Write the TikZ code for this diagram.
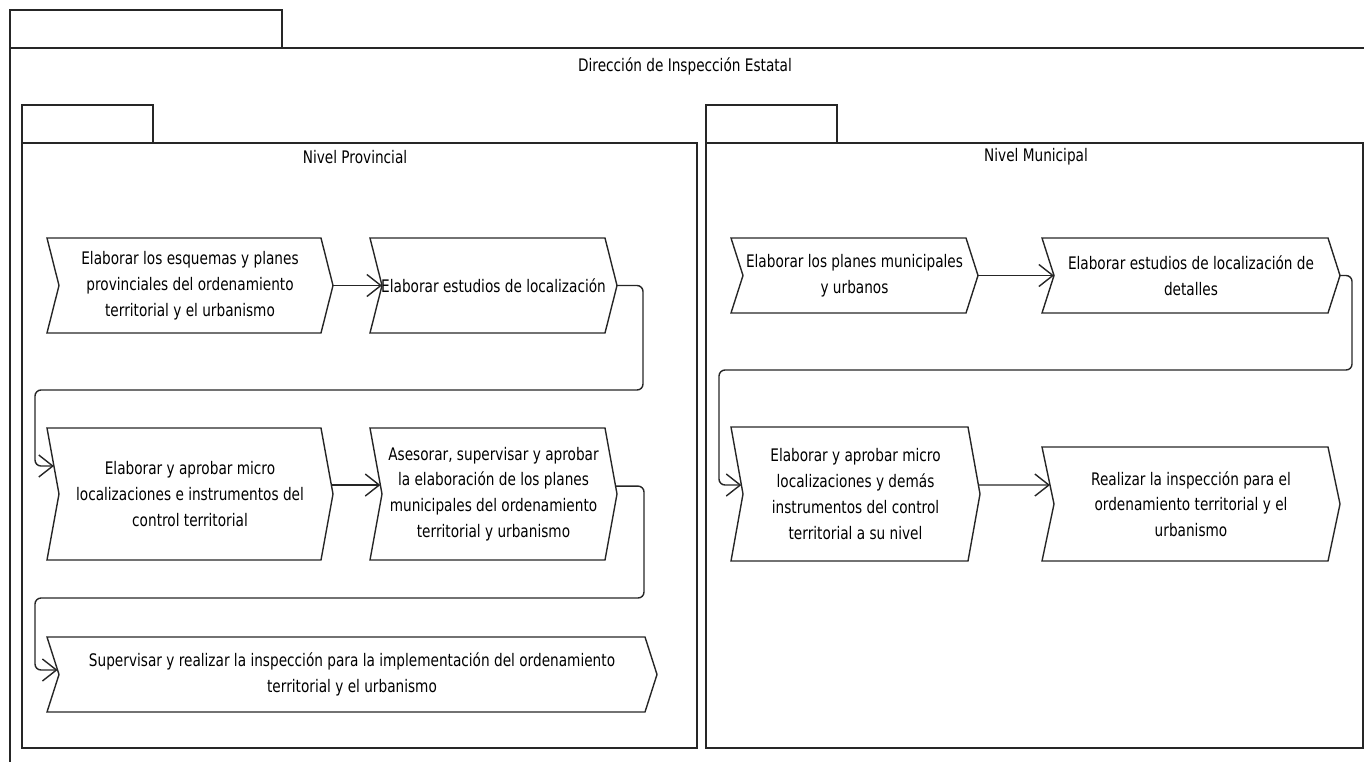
\documentclass[tikz,border=0pt]{standalone}
\usepackage{fontspec}
\setmainfont{DejaVu Sans}[FakeStretch=0.79]
\usetikzlibrary{arrows.meta,calc}
\newcommand\chevfont{\fontsize{17.3}{25.8}\selectfont}
\newcommand\chevout[1]{\draw[outl] (#1.north west) -- ([xshift=-12pt]#1.north east) -- (#1.east) -- ([xshift=-12pt]#1.south east) -- (#1.south west) -- ([xshift=12pt]#1.west) -- cycle;}
\tikzset{
  outl/.style={draw=black!85, line width=1.4pt, line join=miter},
  pkg/.style={draw=black!85, line width=1.4pt, inner sep=0pt, outer sep=0pt},
  chev/.style={draw=none, inner sep=0pt, outer sep=0pt, align=center, font=\chevfont},
  lbl/.style={inner sep=0pt, font=\chevfont},
  arr/.style={draw=black!85, line width=1.4pt, -{Straight Barb[length=14pt,width=22pt]}, rounded corners=6pt},
}
\begin{document}
\begin{tikzpicture}[x=1pt,y=-1pt]
\useasboundingbox (0,0) rectangle (1364,761);
\clip (0,0) rectangle (1364,761);
% outer package
\node[pkg, minimum width=272pt, minimum height=38pt] (outtab) at (146,29) {};
\node[pkg, minimum width=1370pt, minimum height=740pt] (outer) at (695,418) {};
\node[lbl] (dir) at (685,66) {Dirección de Inspección Estatal};
% provincial package
\node[pkg, minimum width=131pt, minimum height=38pt] (provtab) at (87.5,124) {};
\node[pkg, minimum width=675pt, minimum height=605pt] (prov) at (359.5,445.5) {};
\node[lbl] (provlbl) at (355,157) {Nivel Provincial};
% municipal package
\node[pkg, minimum width=131pt, minimum height=38pt] (munitab) at (771.5,124) {};
\node[pkg, minimum width=657pt, minimum height=605pt] (muni) at (1034.5,445.5) {};
\node[lbl] (munilbl) at (1036,157) {Nivel Municipal};
% provincial actions
\node[chev, minimum width=286pt, minimum height=95pt] (P1) at (190,285.5) {Elaborar los esquemas y planes\\provinciales del ordenamiento\\territorial y el urbanismo};
\chevout{P1}
\node[chev, minimum width=247pt, minimum height=95pt] (P2) at (493.5,285.5) {Elaborar estudios de localización};
\chevout{P2}
\node[chev, minimum width=286pt, minimum height=132pt] (P3) at (190,494) {Elaborar y aprobar micro\\localizaciones e instrumentos del\\control territorial};
\chevout{P3}
\node[chev, minimum width=247pt, minimum height=132pt] (P4) at (493.5,494) {Asesorar, supervisar y aprobar\\la elaboración de los planes\\municipales del ordenamiento\\territorial y urbanismo};
\chevout{P4}
\node[chev, minimum width=610pt, minimum height=75pt] (P5) at (352,674.5) {Supervisar y realizar la inspección para la implementación del ordenamiento\\territorial y el urbanismo};
\chevout{P5}
% municipal actions
\node[chev, minimum width=247pt, minimum height=75pt] (M1) at (854.5,275.5) {Elaborar los planes municipales\\y urbanos};
\chevout{M1}
\node[chev, minimum width=298pt, minimum height=75pt] (M2) at (1191,275.5) {Elaborar estudios de localización de\\detalles};
\chevout{M2}
\node[chev, minimum width=249pt, minimum height=134pt] (M3) at (855.5,494) {Elaborar y aprobar micro\\localizaciones y demás\\instrumentos del control\\territorial a su nivel};
\chevout{M3}
\node[chev, minimum width=298pt, minimum height=114pt] (M4) at (1191,504) {Realizar la inspección para el\\ordenamiento territorial y el\\urbanismo};
\chevout{M4}
% connector end points on slanted edges
\coordinate (P3in) at ($(P3.north west)!0.576!([xshift=12pt]P3.west)$);
\coordinate (P3out) at ($([xshift=-12pt]P3.north east)!0.864!(P3.east)$);
\coordinate (P4in) at ($(P4.north west)!0.864!([xshift=12pt]P4.west)$);
\coordinate (P4out) at ($([xshift=-12pt]P4.north east)!0.88!(P4.east)$);
\coordinate (P5in) at ($(P5.north west)!0.88!([xshift=12pt]P5.west)$);
\coordinate (M3in) at ($(M3.north west)!0.866!([xshift=12pt]M3.west)$);
\coordinate (M3out) at ($([xshift=-12pt]M3.north east)!0.866!(M3.east)$);
\coordinate (M4in) at ($(M4.north west)!0.667!([xshift=12pt]M4.west)$);
% connectors
\draw[arr] (P1.east) -- ([xshift=12pt]P2.west);
\draw[arr] (P2.east) -| (643,390) -| (35,466) -- (P3in);
\draw[arr] (P3out) -- (P4in);
\draw[arr] (P4out) -| (644,598) -| (35,670) -- (P5in);
\draw[arr] (M1.east) -- ([xshift=12pt]M2.west);
\draw[arr] (M2.east) -| (1352,370) -| (719,485) -- (M3in);
\draw[arr] (M3out) -- (M4in);
\end{tikzpicture}
\end{document}
